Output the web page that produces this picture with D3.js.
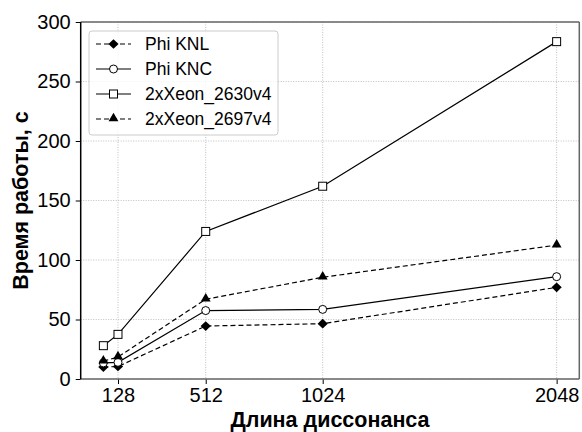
<!DOCTYPE html>
<html lang="ru">
<head>
<meta charset="UTF-8">
<title>Время работы</title>
<script src="https://d3js.org/d3.v7.min.js"></script>
<style>
  body { margin: 0; background: #fff; }
  text { font-family: "Liberation Sans", Arial, sans-serif; fill: #000; }
  .grid line { stroke: #b0b0b0; stroke-width: 0.8; stroke-dasharray: 1,1.5; }
</style>
</head>
<body>
<script>
// data
var lengths = [64, 128, 512, 1024, 2048];
var xTicks = [128, 512, 1024, 2048];
var yTicks = [0, 50, 100, 150, 200, 250, 300];
var knl = [10, 10.5, 44.5, 46.5, 77];
var knc = [13.5, 14, 57.5, 58.5, 86];
var xeon2630 = [28, 37.5, 124, 162, 283.5];
var xeon2697 = [15, 18.5, 67, 85.5, 112.5];
var seriesNames = ["Phi KNL", "Phi KNC", "2xXeon_2630v4", "2xXeon_2697v4"];

var series = [
  { name: seriesNames[0], values: knl, dash: "5,3", marker: "diamond" },
  { name: seriesNames[1], values: knc, dash: null, marker: "circle" },
  { name: seriesNames[2], values: xeon2630, dash: null, marker: "square" },
  { name: seriesNames[3], values: xeon2697, dash: "5,3", marker: "triangle" }
];

var W = 582, H = 432;
var pLeft = 80.7, pRight = 579.3, pTop = 22, pBottom = 379;

var svg = d3.select("body").append("svg")
  .attr("width", W).attr("height", H);

var pad = (d3.max(lengths) - d3.min(lengths)) * 0.05;
var x = d3.scaleLinear()
  .domain([d3.min(lengths) - pad, d3.max(lengths) + pad])
  .range([pLeft, pRight]);
var y = d3.scaleLinear().domain([0, 300]).range([pBottom, pTop]);

// grid
var grid = svg.append("g").attr("class", "grid");
grid.selectAll(".gx").data(xTicks).enter().append("line")
  .attr("x1", function(d) { return x(d); }).attr("x2", function(d) { return x(d); })
  .attr("y1", pTop).attr("y2", pBottom);
grid.selectAll(".gy").data(yTicks).enter().append("line")
  .attr("x1", pLeft).attr("x2", pRight)
  .attr("y1", function(d) { return y(d); }).attr("y2", function(d) { return y(d); });

// axes
var xAxis = svg.append("g").attr("transform", "translate(0," + pBottom + ")")
  .call(d3.axisBottom(x).tickValues(xTicks).tickSize(5).tickPadding(4).tickFormat(d3.format("d")));
var yAxis = svg.append("g").attr("transform", "translate(" + pLeft + ",0)")
  .call(d3.axisLeft(y).tickValues(yTicks).tickSize(5).tickPadding(5));
[xAxis, yAxis].forEach(function(a) {
  a.select(".domain").remove();
  a.attr("font-size", null).attr("font-family", null);
  a.selectAll("text").style("font-size", "20px");
  a.selectAll("line").attr("stroke", "#000").attr("stroke-width", 1);
});

// frame
svg.append("line").attr("x1", pLeft).attr("x2", pRight).attr("y1", pTop).attr("y2", pTop)
  .attr("stroke", "#666").attr("stroke-width", 1.5);
svg.append("line").attr("x1", pRight).attr("x2", pRight).attr("y1", pTop).attr("y2", pBottom)
  .attr("stroke", "#666").attr("stroke-width", 1.5);
svg.append("line").attr("x1", pLeft).attr("x2", pRight).attr("y1", pBottom).attr("y2", pBottom)
  .attr("stroke", "#666").attr("stroke-width", 1.5);
svg.append("line").attr("x1", pLeft).attr("x2", pLeft).attr("y1", pTop).attr("y2", pBottom)
  .attr("stroke", "#000").attr("stroke-width", 1.5);

// markers
function drawMarker(g, type, cx, cy) {
  if (type === "diamond") {
    g.append("path").attr("d", d3.symbol().type(d3.symbolDiamond2).size(60)())
      .attr("transform", "translate(" + cx + "," + cy + ") scale(1.05,1)")
      .attr("fill", "#000");
  } else if (type === "circle") {
    g.append("circle").attr("cx", cx).attr("cy", cy).attr("r", 4)
      .attr("fill", "#fff").attr("stroke", "#000").attr("stroke-width", 1);
  } else if (type === "square") {
    g.append("rect").attr("x", cx - 4).attr("y", cy - 4).attr("width", 8).attr("height", 8)
      .attr("fill", "#fff").attr("stroke", "#000").attr("stroke-width", 1);
  } else {
    g.append("path").attr("d", d3.symbol().type(d3.symbolTriangle).size(42)())
      .attr("transform", "translate(" + cx + "," + (cy - 0.5) + ")")
      .attr("fill", "#000");
  }
}

var line = d3.line()
  .x(function(d, i) { return x(lengths[i]); })
  .y(function(d) { return y(d); });

series.forEach(function(s) {
  var g = svg.append("g");
  g.append("path").attr("d", line(s.values))
    .attr("fill", "none").attr("stroke", "#000").attr("stroke-width", 1.2)
    .attr("stroke-dasharray", s.dash);
  s.values.forEach(function(v, i) { drawMarker(g, s.marker, x(lengths[i]), y(v)); });
});

// legend
var lg = svg.append("g").attr("transform", "translate(89,31)");
lg.append("rect").attr("width", 189).attr("height", 104).attr("rx", 3)
  .attr("fill", "#fff").attr("fill-opacity", 0.8).attr("stroke", "#ccc");
series.forEach(function(s, i) {
  var yy = 13 + i * 25;
  lg.append("line").attr("x1", 7).attr("x2", 42).attr("y1", yy).attr("y2", yy)
    .attr("stroke", "#000").attr("stroke-width", 1.2).attr("stroke-dasharray", s.dash);
  drawMarker(lg, s.marker, 24.5, yy);
  lg.append("text").attr("x", 56).attr("y", yy).attr("dy", "0.36em")
    .style("font-size", "17.5px").text(s.name);
});

// axis titles
svg.append("text").attr("x", (pLeft + pRight) / 2).attr("y", 427)
  .attr("text-anchor", "middle").style("font-size", "21.5px").style("font-weight", "bold")
  .text("Длина диссонанса");
svg.append("text").attr("transform", "translate(28," + ((pTop + pBottom) / 2) + ") rotate(-90)")
  .attr("text-anchor", "middle").style("font-size", "21.5px").style("font-weight", "bold")
  .text("Время работы, с");
</script>
</body>
</html>
